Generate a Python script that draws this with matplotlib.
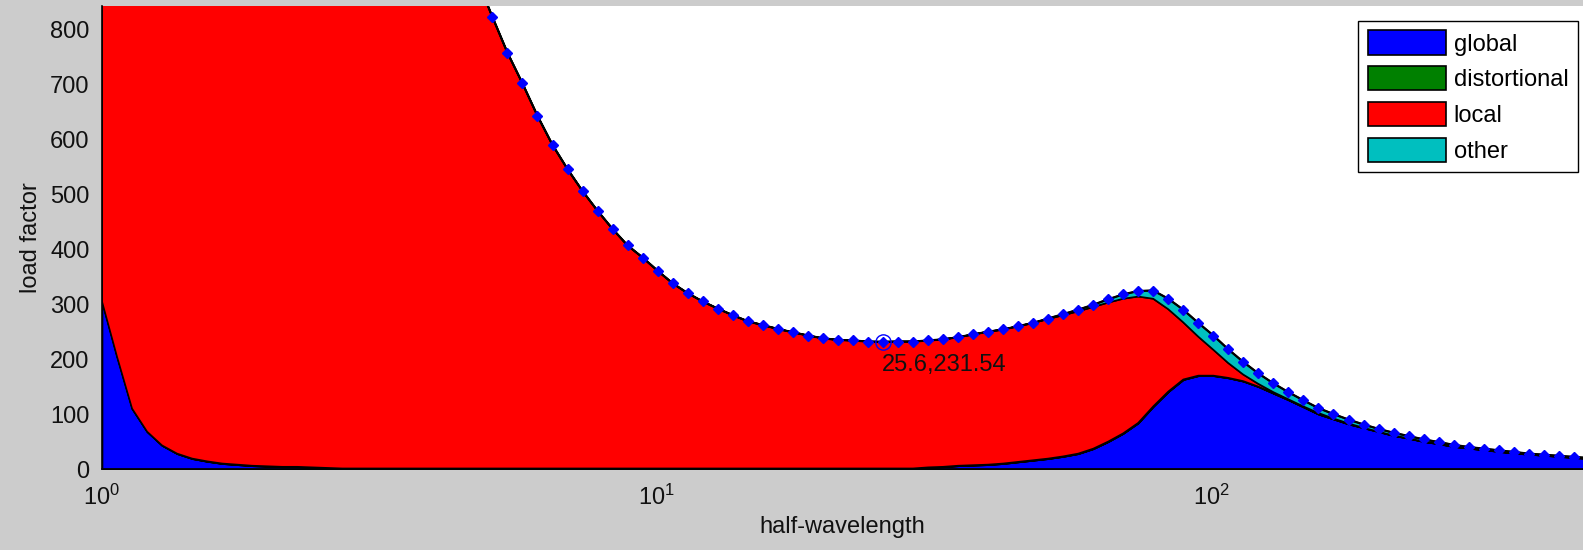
import numpy as np
import matplotlib
matplotlib.use('Agg')
import matplotlib.pyplot as plt

# half-wavelengths of the signature curve (log spaced)
half_wavelength = [
    1.000, 1.064, 1.133, 1.206, 1.283, 1.366, 1.454, 1.547, 1.647, 1.753,
    1.866, 1.986, 2.113, 2.249, 2.394, 2.548, 2.712, 2.886, 3.072, 3.270,
    3.479, 3.703, 3.941, 4.195, 4.465, 4.752, 5.058, 5.383, 5.730, 6.098,
    6.491, 6.908, 7.353, 7.826, 8.329, 8.865, 9.436, 10.04, 10.69, 11.38,
    12.11, 12.89, 13.72, 14.60, 15.54, 16.54, 17.60, 18.74, 19.94, 21.23,
    22.59, 24.05, 25.60, 27.24, 28.99, 30.86, 32.84, 34.95, 37.20, 39.60,
    42.14, 44.85, 47.74, 50.81, 54.08, 57.54, 61.25, 65.19, 69.38, 73.84,
    78.59, 83.65, 89.03, 94.76, 100.9, 107.3, 114.2, 121.6, 129.4, 137.7,
    146.6, 156.0, 166.1, 176.8, 188.2, 200.3, 213.1, 226.8, 241.4, 257.0,
    273.5, 291.1, 309.8, 329.8, 351.0, 373.6, 397.6, 423.2, 450.4, 479.4]

# load factor share of each mode class
global_lf = [
    305, 205, 110, 68, 43, 28, 19, 14, 10, 8,
    6, 5, 4, 4, 3, 2, 1, 1, 1, 1,
    1, 1, 1, 1, 1, 1, 1, 1, 1, 1,
    1, 1, 1, 1, 1, 1, 1, 1, 1, 1,
    1, 1, 1, 1, 1, 1, 1, 1, 1, 1,
    1, 1, 1, 1, 1, 3, 4, 6, 7, 8,
    10, 13, 16, 19, 23, 28, 37, 50, 65, 84,
    114, 141, 163, 170, 170, 166, 160, 150, 138, 126,
    113, 100, 91, 82, 75, 68, 61, 56, 50, 46,
    41, 38, 35, 32, 29, 27, 25, 23, 21, 19]

distortional_lf = [
    0, 0, 0, 0, 0, 0, 0, 0, 0, 0,
    0, 0, 0, 0, 0, 0, 0, 0, 0, 0,
    0, 0, 0, 0, 0, 0, 0, 0, 0, 0,
    0, 0, 0, 0, 0, 0, 0, 0, 0, 0,
    0, 0, 0, 0, 0, 0, 0, 0, 0, 0,
    0, 0, 0, 0, 0, 0, 0, 0, 0, 0,
    0, 0, 0, 0, 0, 0, 0, 0, 0, 0,
    0, 0, 0, 0, 0, 0, 0, 0, 0, 0,
    0, 0, 0, 0, 0, 0, 0, 0, 0, 0,
    0, 0, 0, 0, 0, 0, 0, 0, 0, 0]

local_lf = [
    15895, 13995, 12390, 10932, 9617, 8472, 7471, 6586, 5810, 5132,
    4544, 4025, 3566, 3166, 2817, 2508, 2239, 1999, 1789, 1609,
    1449, 1309, 1189, 1079, 984, 889, 822, 757, 701, 642,
    589, 545, 505, 469, 436, 406, 384, 360, 337, 319,
    304, 291, 279, 268, 261, 254, 248, 242, 237, 234,
    233, 231, 230.54, 231, 231, 231, 232, 234, 238, 242,
    244, 247, 250, 254, 257, 259, 258, 253, 245, 230,
    196, 150, 104, 71, 47, 27, 12, 5, 2, 1,
    1, 2, 1, 1, 0, 0, 0, 0, 0, 0,
    0, 0, 0, 0, 0, 0, 0, 0, 0, 0]

other_lf = [
    0, 0, 0, 0, 0, 0, 0, 0, 0, 0,
    0, 0, 0, 0, 0, 0, 0, 0, 0, 0,
    0, 0, 0, 0, 0, 0, 0, 0, 0, 0,
    0, 0, 0, 0, 0, 0, 0, 0, 0, 0,
    0, 0, 0, 0, 0, 0, 0, 0, 0, 0,
    0, 0, 0, 0, 0, 0, 0, 0, 0, 0,
    0, 0, 0, 1, 2, 3, 4, 6, 8, 10,
    15, 19, 23, 25, 26, 25, 23, 19, 16, 13,
    11, 9, 8, 7, 6, 5, 5, 4, 4, 3,
    3, 2, 2, 2, 2, 1, 1, 1, 1, 1]

mode_names = ['global', 'distortional', 'local', 'other']
mode_colors = ['#0000ff', '#008000', '#ff0000', '#00bfbf']

plt.rcParams['font.family'] = ['Liberation Sans', 'DejaVu Sans']
plt.rcParams['mathtext.fontset'] = 'custom'
plt.rcParams['mathtext.rm'] = 'Liberation Sans'
plt.rcParams['font.size'] = 17

W, H = 1583, 550
fig = plt.figure(figsize=(W / 100, H / 100), dpi=100, facecolor='#cccccc')
ax = fig.add_axes([102 / W, 1 - 469 / H, 1 - 102 / W, (469 - 6) / H])
ax.set_axisbelow(True)

x = np.array(half_wavelength)
ax.stackplot(x, global_lf, distortional_lf, local_lf, other_lf,
             colors=mode_colors, labels=mode_names,
             edgecolor='k', linewidth=1.2)

total = np.array(global_lf) + np.array(distortional_lf) + np.array(local_lf) + np.array(other_lf)
ax.plot(x, total, color='k', lw=1.6, marker='D', ms=5.5,
        mfc='#0000ff', mec='#0000ff', zorder=3)

# data tip at the local minimum
i = int(np.argmin(total[:70]))
ax.plot(x[i], total[i], 'o', ms=11, mfc='none', mec='#0000ff', mew=1, zorder=4)
ax.annotate('%g,%.2f' % (x[i], total[i]), (x[i], total[i]),
            xytext=(-1, -17), textcoords='offset points',
            ha='left', va='center', color='#111111')

ax.set_xscale('log')
ax.set_xlim(1, 468)
ax.set_ylim(0, 843)
ax.set_yticks(np.arange(0, 801, 100))
ax.set_xticks([1, 10, 100])
ax.set_xticklabels([r'$\mathregular{10^{0}}$', r'$\mathregular{10^{1}}$',
                    r'$\mathregular{10^{2}}$'])
ax.xaxis.set_minor_locator(matplotlib.ticker.NullLocator())
ax.tick_params(direction='in', length=0, colors='#111111')
ax.tick_params(axis='y', pad=9)
ax.tick_params(axis='x', pad=11)

for s in ['top', 'right']:
    ax.spines[s].set_visible(False)
for s in ['left', 'bottom']:
    ax.spines[s].set_linewidth(1.2)

ax.set_xlabel('half-wavelength', color='#111111')
ax.xaxis.label.set_va('center')
ax.xaxis.set_label_coords(0.5, -0.126)
ax.set_ylabel('load factor', color='#111111')
ax.yaxis.label.set_va('center')
ax.yaxis.set_label_coords(-0.048, 0.5)

leg = ax.legend(loc='upper right', bbox_to_anchor=(1578 / W, 1 - 21 / H),
                bbox_transform=fig.transFigure, borderaxespad=0,
                fancybox=False, framealpha=1, edgecolor='k',
                handlelength=3.3, handleheight=1.2, labelspacing=0.45,
                handletextpad=0.35, borderpad=0.4)
leg.get_frame().set_linewidth(1.0)

fig.savefig('out.png', dpi=100, facecolor=fig.get_facecolor())
